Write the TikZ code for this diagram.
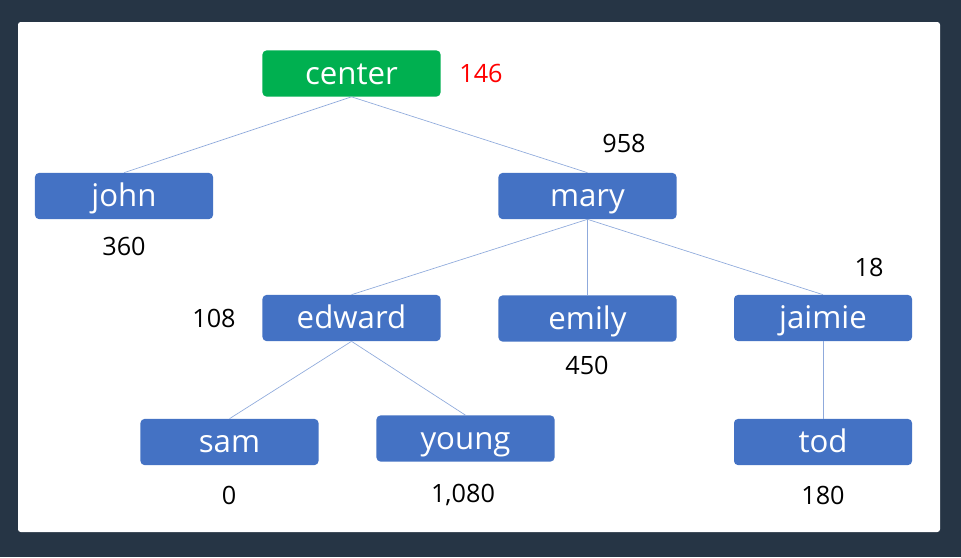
\documentclass[tikz,border=0pt]{standalone}
\usepackage{fontspec}
\setmainfont{Open Sans}
\usetikzlibrary{positioning}
\definecolor{slate}{HTML}{263545}
\definecolor{boxblue}{HTML}{4472C4}
\definecolor{boxgreen}{HTML}{00B050}
\definecolor{linkblue}{HTML}{8FAADC}

\begin{document}
\begin{tikzpicture}[x=0.0264583cm,y=-0.0264583cm,
    tnode/.style={rectangle,rounded corners=3pt,fill=boxblue,text=white,
      minimum width=4.71cm,minimum height=1.22cm,inner sep=0pt,
      text height=21pt,text depth=4.5pt,
      font=\fontsize{23.5}{26}\selectfont},
    rootnode/.style={tnode,fill=boxgreen},
    wlabel/.style={font=\fontsize{19}{21}\selectfont,text=black}]
    \fill[slate] (0,0) rectangle (961,557);
    \fill[white,rounded corners=2pt] (18,22) rectangle (940,532);
    \useasboundingbox (0,0) rectangle (961,557);
    % nodes
    \node[rootnode] (center) at (351.5,73.5)  {center};
    \node[tnode]    (john)   at (124,196)     {john};
    \node[tnode]    (mary)   at (587.5,196)   {mary};
    \node[tnode]    (edward) at (351.5,318)   {edward};
    \node[tnode]    (emily)  at (587.5,318.5) {emily};
    \node[tnode]    (jaimie) at (823,318)     {jaimie};
    \node[tnode]    (sam)    at (229.5,442)   {sam};
    \node[tnode]    (young)  at (465.5,438.5) {young};
    \node[tnode]    (tod)    at (823,442)     {tod};
    % scores
    \node[wlabel,text=red] (s-center) at (481,73)  {146};
    \node[wlabel] (s-mary)   at (624,143) {958};
    \node[wlabel] (s-john)   at (124,246) {360};
    \node[wlabel] (s-edward) at (214,318) {108};
    \node[wlabel] (s-emily)  at (587,365) {450};
    \node[wlabel] (s-jaimie) at (869,267) {18};
    \node[wlabel] (s-sam)    at (229,495) {0};
    \node[wlabel] (s-young)  at (463,495) {1,080};
    \node[wlabel] (s-tod)    at (823,495) {180};
    % links
    \path[draw=linkblue,line width=0.5pt]
    (center.south) edge (john.north)
                   edge (mary.north)
    (mary.south)   edge (edward.north)
                   edge (emily.north)
                   edge (jaimie.north)
    (edward.south) edge (sam.north)
                   edge (young.north)
    (jaimie.south) edge (tod.north);
\end{tikzpicture}
\end{document}
